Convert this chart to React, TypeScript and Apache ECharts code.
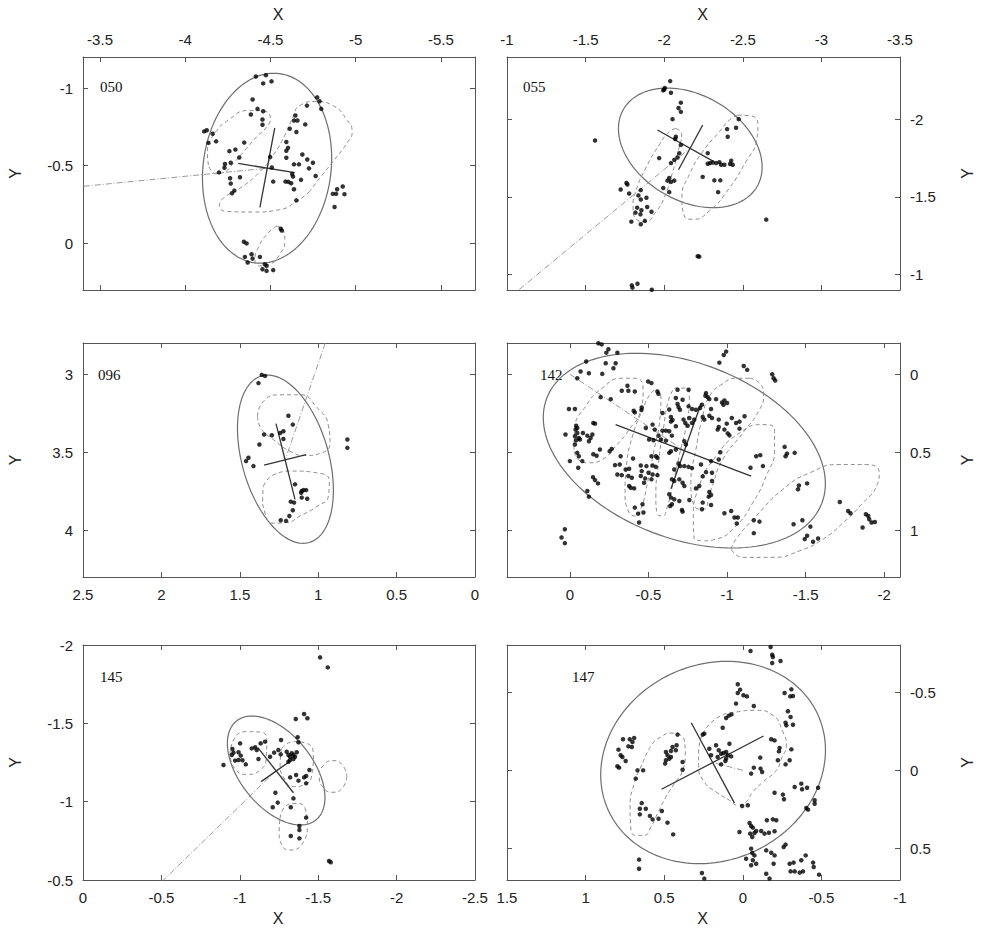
import React, { useEffect, useRef } from "react";
import * as echarts from "echarts";

// ---------------- DATA ----------------
const PTS_050 = [[-4.414,-1.074],[-4.473,-1.083],[-4.457,-1.030],[-4.506,-1.043],[-4.395,-0.926],[-4.774,-0.940],[-4.788,-0.915],[-4.798,-0.866],[-4.714,-0.887],[-4.424,-0.866],[-4.457,-0.851],[-4.385,-0.830],[-4.453,-0.798],[-4.453,-0.764],[-4.646,-0.823],[-4.638,-0.791],[-4.658,-0.791],[-4.613,-0.738],[-4.652,-0.717],[-4.704,-0.766],[-4.111,-0.721],[-4.126,-0.728],[-4.161,-0.706],[-4.136,-0.647],[-4.181,-0.657],[-4.346,-0.649],[-4.593,-0.653],[-4.603,-0.615],[-4.593,-0.596],[-4.259,-0.594],[-4.294,-0.604],[-4.317,-0.553],[-4.498,-0.557],[-4.593,-0.551],[-4.687,-0.572],[-4.716,-0.540],[-4.749,-0.519],[-4.233,-0.511],[-4.267,-0.519],[-4.638,-0.509],[-4.667,-0.509],[-4.726,-0.483],[-4.508,-0.489],[-4.230,-0.487],[-4.198,-0.457],[-4.627,-0.447],[-4.632,-0.430],[-4.263,-0.419],[-4.321,-0.426],[-4.765,-0.434],[-4.267,-0.385],[-4.516,-0.398],[-4.588,-0.398],[-4.605,-0.396],[-4.621,-0.387],[-4.679,-0.409],[-4.288,-0.340],[-4.274,-0.323],[-4.638,-0.349],[-4.652,-0.277],[-4.866,-0.319],[-4.885,-0.319],[-4.924,-0.366],[-4.934,-0.317],[-4.891,-0.349],[-4.876,-0.234],[-4.560,-0.094],[-4.566,-0.083],[-4.344,-0.011],[-4.360,0.0],[-4.389,0.070],[-4.438,0.087],[-4.350,0.087],[-4.395,0.098],[-4.366,0.123],[-4.467,0.134],[-4.477,0.145],[-4.453,0.166],[-4.477,0.177],[-4.516,0.172]];
const PTS_055 = [[-2.038,-2.245],[-2.004,-2.200],[-2.000,-2.191],[-1.994,-2.185],[-2.043,-2.170],[-2.106,-2.106],[-2.091,-2.072],[-2.106,-2.047],[-2.053,-2.000],[-2.400,-1.936],[-2.404,-1.887],[-2.457,-1.945],[-2.474,-2.000],[-1.560,-1.862],[-2.074,-1.887],[-2.070,-1.872],[-2.106,-1.834],[-2.096,-1.781],[-1.968,-1.749],[-2.043,-1.717],[-2.064,-1.738],[-2.085,-1.753],[-2.032,-1.621],[-2.021,-1.604],[-2.043,-1.596],[-2.064,-1.604],[-1.994,-1.557],[-2.032,-1.530],[-2.277,-1.781],[-2.277,-1.713],[-2.291,-1.717],[-2.309,-1.721],[-2.330,-1.717],[-2.351,-1.723],[-2.362,-1.706],[-2.383,-1.706],[-2.419,-1.711],[-2.426,-1.732],[-2.436,-1.706],[-2.245,-1.628],[-2.319,-1.606],[-2.357,-1.606],[-2.343,-1.530],[-1.760,-1.589],[-1.766,-1.579],[-1.723,-1.547],[-1.777,-1.521],[-1.851,-1.543],[-1.836,-1.509],[-1.851,-1.483],[-1.887,-1.494],[-1.828,-1.430],[-1.892,-1.434],[-1.855,-1.413],[-1.817,-1.398],[-1.849,-1.387],[-1.919,-1.404],[-1.791,-1.340],[-1.851,-1.323],[-1.877,-1.345],[-2.649,-1.353],[-2.213,-1.117],[-2.223,-1.115],[-1.794,-0.930],[-1.798,-0.915],[-1.830,-0.940],[-1.921,-0.902]];
const PTS_096 = [[1.360,3.004],[1.339,3.011],[1.381,3.057],[1.190,3.266],[1.162,3.323],[1.222,3.366],[1.243,3.377],[1.222,3.415],[1.345,3.387],[1.296,3.391],[1.375,3.451],[0.814,3.419],[0.814,3.472],[1.445,3.536],[1.460,3.557],[1.413,3.589],[1.148,3.706],[1.105,3.749],[1.094,3.743],[1.077,3.743],[1.109,3.760],[1.105,3.791],[1.070,3.798],[1.175,3.817],[1.154,3.823],[1.162,3.872],[1.184,3.909],[1.239,3.936],[1.205,3.940]];
const PTS_142 = [[-0.181,-0.198],[-0.202,-0.191],[-0.245,-0.160],[-0.232,-0.138],[-0.302,-0.138],[-0.104,-0.081],[-0.228,-0.070],[-0.291,-0.070],[-0.277,-0.038],[-0.068,-0.017],[-0.121,-0.006],[-0.206,-0.002],[-0.047,0.026],
[-0.994,-0.145],[-0.979,-0.123],[-0.951,-0.074],[-1.106,-0.053],[-1.128,-0.028],[-1.287,0.0],[-1.296,0.026],[-1.306,0.040],
[-0.498,0.047],[-0.519,0.057],[-0.330,0.106],[-0.366,0.074],[-0.372,0.106],[-0.413,0.111],[-0.196,0.147],[-0.260,0.160],[0.006,0.223],[-0.032,0.223],[-0.457,0.213],[-0.455,0.230],[-0.406,0.234],[-0.413,0.245],[-0.557,0.111],[-0.563,0.126],[0.028,0.387],[-0.040,0.330],[-0.047,0.345],[-0.036,0.355],[-0.047,0.377],[-0.032,0.398],[-0.057,0.409],[-0.040,0.423],[-0.064,0.419],[-0.032,0.451],[-0.083,0.377],[-0.111,0.394],[-0.132,0.409],[-0.143,0.387],[-0.121,0.430],[-0.149,0.313],[-0.160,0.317],[-0.047,0.504],[-0.057,0.526],[-0.079,0.557],[-0.053,0.600],[0.0,0.557],[-0.149,0.513],[-0.170,0.523],[-0.191,0.483],[-0.147,0.660],[-0.160,0.679],[-0.179,0.700],[-0.111,0.749],[-0.121,0.785],[-0.253,0.494],[-0.266,0.479],[-0.323,0.526],[-0.287,0.583],[-0.317,0.579],[-0.302,0.643],[-0.330,0.647],[-0.355,0.611],[-0.377,0.606],[-0.372,0.653],[-0.394,0.664],[-0.377,0.717],[-0.387,0.728],[-0.409,0.732],[-0.413,0.855],[-0.434,0.894],[-0.440,0.951],[-0.468,0.887],[-0.462,0.834],[-0.402,0.540],[-0.451,0.585],[-0.457,0.621],[-0.451,0.653],[-0.483,0.345],[-0.526,0.323],[-0.540,0.355],[-0.504,0.419],[-0.532,0.423],[-0.519,0.526],[-0.547,0.526],[-0.557,0.536],[-0.487,0.589],[-0.526,0.585],[-0.547,0.594],[-0.500,0.632],[-0.526,0.643],[-0.557,0.647],[-0.479,0.668],[-0.519,0.674],[-0.472,0.696],
[-0.589,0.249],[-0.632,0.226],[-0.643,0.274],[-0.653,0.294],[-0.685,0.191],[-0.691,0.211],[-0.755,0.100],[-0.674,0.153],[-0.717,0.164],[-0.685,0.100],[-0.700,0.228],[-0.755,0.206],[-0.777,0.223],[-0.802,0.228],[-0.828,0.217],[-0.589,0.362],[-0.611,0.362],[-0.632,0.366],[-0.564,0.394],[-0.579,0.419],[-0.611,0.426],[-0.643,0.304],[-0.674,0.334],[-0.649,0.394],[-0.723,0.291],[-0.734,0.313],[-0.749,0.330],[-0.760,0.281],[-0.777,0.313],[-0.791,0.291],[-0.728,0.430],[-0.738,0.451],[-0.674,0.483],[-0.643,0.494],[-0.632,0.504],[-0.691,0.572],[-0.702,0.589],[-0.728,0.589],[-0.755,0.594],[-0.777,0.602],[-0.664,0.611],[-0.649,0.674],[-0.664,0.685],[-0.696,0.674],[-0.717,0.696],[-0.728,0.717],[-0.632,0.770],[-0.643,0.791],[-0.664,0.802],[-0.696,0.813],[-0.649,0.834],[-0.638,0.845],[-0.713,0.870],[-0.717,0.881],[-0.760,0.806],
[-0.845,0.274],[-0.855,0.291],[-0.840,0.196],[-0.862,0.138],[-0.877,0.147],[-0.887,0.160],[-0.866,0.121],[-0.930,0.160],[-0.968,0.181],[-0.983,0.168],[-0.977,0.196],[-1.000,0.185],[-0.898,0.223],[-0.887,0.266],[-0.904,0.281],[-0.947,0.291],[-0.947,0.338],[-0.940,0.355],[-0.983,0.355],[-0.998,0.317],[-1.004,0.379],[-1.030,0.281],[-1.057,0.313],[-1.079,0.304],[-1.111,0.270],[-1.079,0.349],[-1.015,0.392],[-0.957,0.500],[-0.947,0.547],[-0.898,0.557],[-0.904,0.632],[-0.904,0.685],[-0.834,0.579],[-0.866,0.628],[-0.845,0.655],[-0.823,0.717],[-0.802,0.732],[-0.887,0.755],[-0.898,0.774],[-0.883,0.785],[-0.845,0.823],[-0.898,0.838],[-0.840,0.866],[-0.983,0.891],[-1.026,0.877],[-1.047,0.919],[-1.068,0.919],[-1.062,0.957],[-1.149,0.600],[-1.185,0.526],[-1.211,0.519],[-1.228,0.589],[-1.170,0.936],[-1.206,0.945],[-1.170,1.019],
[-1.366,0.466],[-1.372,0.526],[-1.381,0.509],[-1.430,0.504],[-1.457,0.713],[-1.451,0.738],[-1.509,0.700],[-1.423,0.962],[-1.479,0.936],[-1.530,0.977],[-1.509,1.036],[-1.494,1.057],[-1.547,1.074],[-1.579,1.053],[-1.717,0.819],[-1.770,0.877],[-1.785,0.891],[-1.862,0.983],[-1.883,0.898],[-1.898,0.909],[-1.919,0.951],[-1.940,0.947],[-1.904,0.930],
[0.032,0.994],[0.053,1.047],[0.032,1.083]];
const PTS_145 = [[-1.512,-1.921],[-1.561,-1.857],[-1.410,-1.560],[-1.431,-1.532],[-1.357,-1.528],[-1.369,-1.411],[-1.374,-1.379],[-0.896,-1.234],[-0.953,-1.336],[-0.960,-1.313],[-0.949,-1.298],[-0.970,-1.262],[-0.992,-1.266],[-1.002,-1.372],[-0.992,-1.315],[-1.006,-1.294],[-1.017,-1.264],[-1.038,-1.238],[-1.076,-1.340],[-1.098,-1.347],[-1.108,-1.330],[-1.119,-1.272],[-1.133,-1.372],[-1.161,-1.383],[-1.193,-1.287],[-1.219,-1.313],[-1.246,-1.330],[-1.263,-1.394],[-1.261,-1.302],[-1.299,-1.319],[-1.310,-1.298],[-1.321,-1.287],[-1.331,-1.309],[-1.342,-1.298],[-1.352,-1.287],[-1.363,-1.315],[-1.342,-1.272],[-1.310,-1.255],[-1.321,-1.266],[-1.444,-1.202],[-1.410,-1.155],[-1.423,-1.164],[-1.359,-1.170],[-1.374,-1.134],[-1.321,-1.155],[-1.423,-1.117],[-1.227,-1.057],[-1.242,-0.994],[-1.210,-0.964],[-1.342,-1.021],[-1.325,-0.964],[-1.423,-0.898],[-1.380,-0.845],[-1.380,-0.819],[-1.380,-0.766],[-1.325,-0.781],[-1.569,-0.621],[-1.580,-0.613]];
const PTS_147 = [[-0.049,-0.762],[-0.177,-0.787],[-0.187,-0.738],[-0.191,-0.723],[-0.187,-0.685],[-0.240,-0.698],
[0.032,-0.549],[0.017,-0.515],[0.032,-0.494],[-0.004,-0.479],[-0.026,-0.472],[0.043,-0.426],[-0.070,-0.411],
[-0.266,-0.494],[-0.309,-0.517],[-0.319,-0.474],[-0.302,-0.472],[-0.287,-0.377],[-0.304,-0.340],[-0.319,-0.291],[-0.272,-0.304],[-0.277,-0.287],
[0.106,-0.334],[0.089,-0.349],[0.072,-0.357],[0.128,-0.272],[0.245,-0.234],[0.255,-0.228],
[0.170,-0.160],[0.213,-0.138],[0.085,-0.170],[0.153,-0.128],[0.138,-0.106],[0.123,-0.111],[0.106,-0.117],[0.096,-0.096],[0.074,-0.089],[0.160,-0.085],[0.106,-0.074],[0.111,-0.060],[0.138,-0.038],[0.202,-0.096],
[-0.111,-0.081],[-0.070,-0.017],[-0.053,0.021],[-0.113,-0.011],[-0.123,0.011],
[-0.181,-0.198],[-0.202,-0.191],[-0.234,-0.143],[-0.230,-0.121],[-0.223,-0.064],[-0.309,-0.134],[-0.298,-0.064],[-0.272,-0.038],
[0.762,-0.198],[0.719,-0.198],[0.691,-0.206],[0.702,-0.181],[0.728,-0.153],[0.706,-0.149],[0.791,-0.132],[0.777,-0.096],[0.766,-0.085],[0.745,-0.060],[0.798,-0.026],[0.787,-0.017],
[0.670,0.0],[0.634,0.0],[0.681,0.053],
[0.415,-0.228],[0.489,-0.117],[0.457,-0.123],[0.426,-0.128],[0.447,-0.149],[0.421,-0.160],[0.479,-0.096],[0.468,-0.074],[0.489,-0.064],[0.457,-0.085],[0.494,-0.043],[0.383,-0.053],[0.383,-0.004],
[0.643,0.209],[0.655,0.245],[0.617,0.245],[0.655,0.281],[0.591,0.291],[0.574,0.313],[0.536,0.309],[0.515,0.260],[0.479,0.334],[0.443,0.409],
[0.660,0.570],[0.660,0.628],[0.260,0.655],[0.245,0.691],
[0.004,0.228],[-0.032,0.223],[0.021,0.394],[-0.043,0.336],[-0.053,0.355],[-0.064,0.366],[-0.047,0.404],[-0.060,0.426],[-0.074,0.400],[-0.085,0.387],[-0.117,0.387],[-0.138,0.404],[-0.153,0.319],[-0.166,0.398],
[-0.053,0.500],[-0.060,0.528],[-0.021,0.564],[-0.064,0.574],[-0.053,0.606],
[-0.191,0.313],[-0.213,0.319],[-0.202,0.389],[-0.260,0.489],[-0.272,0.474],[-0.149,0.511],[-0.181,0.526],[-0.202,0.543],[-0.196,0.596],[-0.074,0.543],[-0.085,0.596],[-0.149,0.660],[-0.170,0.691],
[-0.298,0.596],[-0.323,0.589],[-0.304,0.645],[-0.330,0.645],[-0.362,0.653],[-0.383,0.645],[-0.372,0.574],[-0.400,0.543],[-0.447,0.589],[-0.451,0.617],[-0.485,0.666],
[-0.202,0.143],[-0.255,0.155],[-0.262,0.185],[-0.330,0.106],[-0.372,0.085],[-0.377,0.121],[-0.409,0.111],[-0.479,0.111],[-0.404,0.240],[-0.415,0.251],[-0.457,0.191],[-0.457,0.213]];

// ellipse: [centerX, centerY, semiAxis1X, semiAxis1Y, semiAxis2X, semiAxis2Y]
const ELL_050 = [-4.48, -0.484, -0.073, -0.609, -0.372, 0.054];
const ELL_055 = [-2.166, -1.815, -0.423, 0.252, 0.173, 0.291];
const ELL_096 = [1.209, 3.545, -0.151, 0.534, 0.266, 0.075];
const ELL_142 = [-0.728, 0.49, -0.874, 0.339, 0.203, 0.524];
const ELL_145 = [-1.232, -1.199, -0.253, 0.316, 0.181, 0.145];
const ELL_147 = [0.189, -0.05, -0.664, -0.311, -0.265, 0.566];

const CROSS_050 = [[[-4.525,-0.743],[-4.438,-0.232]],[[-4.311,-0.515],[-4.642,-0.455]]];
const CROSS_055 = [[[-1.957,-1.930],[-2.313,-1.728]],[[-2.245,-1.962],[-2.091,-1.674]]];
const CROSS_096 = [[[1.269,3.317],[1.148,3.802]],[[1.345,3.583],[1.077,3.515]]];
const CROSS_142 = [[[-0.291,0.323],[-1.153,0.653]],[[-0.643,0.734],[-0.834,0.189]]];
const CROSS_145 = [[[-1.115,-1.345],[-1.342,-1.057]],[[-1.136,-1.128],[-1.316,-1.255]]];
const CROSS_147 = [[[0.517,0.121],[-0.132,-0.219]],[[0.328,-0.304],[0.053,0.209]]];

const ORIGIN = [0, 0];

const CONT_050 = [
  [[-4.136,-0.504],[-4.130,-0.589],[-4.165,-0.696],[-4.263,-0.802],[-4.370,-0.855],[-4.447,-0.855],[-4.500,-0.802],[-4.477,-0.749],[-4.418,-0.685],[-4.350,-0.600],[-4.282,-0.515],[-4.224,-0.457],[-4.180,-0.448]],
  [[-4.730,-0.334],[-4.652,-0.270],[-4.554,-0.217],[-4.399,-0.202],[-4.243,-0.206],[-4.200,-0.245],[-4.224,-0.291],[-4.321,-0.355],[-4.438,-0.462],[-4.516,-0.568],[-4.584,-0.696],[-4.632,-0.813],[-4.671,-0.887],[-4.768,-0.913],[-4.866,-0.887],[-4.944,-0.802],[-4.979,-0.717],[-4.953,-0.653],[-4.866,-0.526],[-4.788,-0.419]],
  [[-4.535,-0.111],[-4.578,-0.079],[-4.584,-0.015],[-4.554,0.070],[-4.496,0.134],[-4.438,0.145],[-4.409,0.102],[-4.428,0.028],[-4.477,-0.057]],
];
const CONT_055 = [
  [[-2.074,-1.940],[-2.111,-1.902],[-2.091,-1.802],[-2.049,-1.643],[-2.000,-1.494],[-1.947,-1.404],[-1.879,-1.340],[-1.823,-1.355],[-1.802,-1.440],[-1.823,-1.547],[-1.883,-1.685],[-1.968,-1.834],[-2.032,-1.919]],
  [[-2.468,-2.026],[-2.553,-2.021],[-2.596,-1.962],[-2.585,-1.855],[-2.521,-1.728],[-2.415,-1.557],[-2.287,-1.409],[-2.181,-1.355],[-2.128,-1.377],[-2.113,-1.494],[-2.160,-1.643],[-2.245,-1.791],[-2.351,-1.919],[-2.415,-1.994]],
];
const CONT_096 = [
  [[1.387,3.270],[1.349,3.174],[1.243,3.132],[1.116,3.132],[1.010,3.211],[0.935,3.330],[0.925,3.440],[0.978,3.504],[1.084,3.521],[1.179,3.494],[1.286,3.419],[1.366,3.345]],
  [[1.349,3.717],[1.281,3.643],[1.158,3.621],[1.010,3.632],[0.929,3.685],[0.935,3.781],[1.010,3.849],[1.116,3.909],[1.201,3.951],[1.286,3.955],[1.339,3.891],[1.354,3.791]],
];
const CONT_142 = [
  [[-0.026,0.483],[-0.032,0.345],[-0.100,0.206],[-0.206,0.089],[-0.334,0.026],[-0.419,0.026],[-0.466,0.100],[-0.451,0.228],[-0.377,0.355],[-0.291,0.462],[-0.206,0.547],[-0.121,0.568],[-0.053,0.547]],
  [[-0.547,0.100],[-0.579,0.143],[-0.572,0.291],[-0.536,0.483],[-0.494,0.696],[-0.451,0.866],[-0.419,0.909],[-0.372,0.877],[-0.351,0.760],[-0.360,0.589],[-0.398,0.398],[-0.462,0.228],[-0.515,0.121]],
  [[-0.664,0.089],[-0.738,0.089],[-0.760,0.143],[-0.743,0.313],[-0.700,0.504],[-0.657,0.696],[-0.621,0.845],[-0.589,0.909],[-0.557,0.898],[-0.547,0.781],[-0.564,0.568],[-0.594,0.355],[-0.628,0.164]],
  [[-1.143,0.026],[-1.206,0.057],[-1.232,0.132],[-1.206,0.228],[-1.100,0.377],[-0.972,0.547],[-0.898,0.738],[-0.845,0.866],[-0.791,0.845],[-0.770,0.694],[-0.802,0.481],[-0.845,0.268],[-0.887,0.142],[-0.972,0.061],[-1.057,0.026]],
  [[-0.791,1.057],[-0.785,0.930],[-0.823,0.717],[-0.930,0.526],[-1.079,0.377],[-1.228,0.323],[-1.302,0.355],[-1.302,0.483],[-1.249,0.653],[-1.164,0.823],[-1.057,0.972],[-0.930,1.057],[-0.845,1.068]],
  [[-1.026,1.121],[-1.057,1.057],[-1.185,0.909],[-1.355,0.738],[-1.526,0.632],[-1.717,0.579],[-1.887,0.579],[-1.968,0.632],[-1.951,0.717],[-1.866,0.823],[-1.740,0.951],[-1.611,1.057],[-1.462,1.132],[-1.291,1.174],[-1.100,1.174]],
];
const CONT_145 = [
  [[-0.938,-1.298],[-0.960,-1.394],[-1.045,-1.447],[-1.140,-1.443],[-1.172,-1.383],[-1.168,-1.277],[-1.130,-1.202],[-1.045,-1.174],[-0.970,-1.209]],
  [[-1.268,-1.340],[-1.342,-1.383],[-1.427,-1.372],[-1.469,-1.298],[-1.459,-1.170],[-1.406,-1.106],[-1.342,-1.096],[-1.289,-1.138],[-1.257,-1.245]],
  [[-1.682,-1.161],[-1.656,-1.089],[-1.594,-1.060],[-1.533,-1.089],[-1.507,-1.161],[-1.533,-1.232],[-1.594,-1.262],[-1.656,-1.232]],
  [[-1.257,-0.894],[-1.289,-0.968],[-1.352,-0.989],[-1.416,-0.957],[-1.431,-0.851],[-1.406,-0.745],[-1.321,-0.691],[-1.268,-0.723],[-1.251,-0.809]],
];
const CONT_147 = [
  [[0.415,-0.234],[0.372,-0.191],[0.366,-0.096],[0.383,0.0],[0.436,0.085],[0.489,0.170],[0.543,0.277],[0.585,0.362],[0.628,0.415],[0.681,0.415],[0.713,0.362],[0.717,0.234],[0.691,0.085],[0.649,-0.021],[0.574,-0.170],[0.521,-0.213],[0.457,-0.238]],
  [[0.255,-0.234],[0.170,-0.330],[0.043,-0.372],[-0.085,-0.383],[-0.191,-0.351],[-0.255,-0.245],[-0.277,-0.160],[-0.245,-0.074],[-0.213,0.0],[-0.128,0.074],[-0.064,0.138],[-0.021,0.202],[0.032,0.223],[0.085,0.191],[0.170,0.138],[0.245,0.074],[0.281,-0.032],[0.281,-0.117]],
];

const TICKS_050_X = [-5.5, -5, -4.5, -4, -3.5];
const TICKS_050_Y = [-1, -0.5, 0];
const TICKS_055_X = [-3.5, -3, -2.5, -2, -1.5, -1];
const TICKS_055_Y = [-2, -1.5, -1];
const TICKS_096_X = [0, 0.5, 1, 1.5, 2, 2.5];
const TICKS_096_Y = [3, 3.5, 4];
const TICKS_142_X = [-2, -1.5, -1, -0.5, 0];
const TICKS_142_Y = [0, 0.5, 1];
const TICKS_145_X = [-2.5, -2, -1.5, -1, -0.5, 0];
const TICKS_145_Y = [-2, -1.5, -1, -0.5];
const TICKS_147_X = [-1, -0.5, 0, 0.5, 1, 1.5];
const TICKS_147_Y = [-0.5, 0, 0.5];

// ---------------- LAYOUT ----------------
const PANELS = [
  { label: "050", pts: PTS_050, ell: ELL_050, cross: CROSS_050, cont: CONT_050, xt: TICKS_050_X, yt: TICKS_050_Y,
    grid: { left: 83, top: 57, width: 392, height: 233 }, xr: [-5.7, -3.4], yr: [-1.2, 0.3], xPos: "top", yPos: "left", lab: [100, 87], xTitle: true },
  { label: "055", pts: PTS_055, ell: ELL_055, cross: CROSS_055, cont: CONT_055, xt: TICKS_055_X, yt: TICKS_055_Y,
    grid: { left: 507, top: 57, width: 393, height: 233 }, xr: [-3.5, -1], yr: [-2.4, -0.9], xPos: "top", yPos: "right", lab: [523, 87], xTitle: true },
  { label: "096", pts: PTS_096, ell: ELL_096, cross: CROSS_096, cont: CONT_096, xt: TICKS_096_X, yt: TICKS_096_Y,
    grid: { left: 83, top: 343, width: 392, height: 234 }, xr: [0, 2.5], yr: [2.8, 4.3], xPos: "bottom", yPos: "left", lab: [98, 375], xTitle: false },
  { label: "142", pts: PTS_142, ell: ELL_142, cross: CROSS_142, cont: CONT_142, xt: TICKS_142_X, yt: TICKS_142_Y,
    grid: { left: 507, top: 343, width: 393, height: 234 }, xr: [-2.1, 0.4], yr: [-0.2, 1.3], xPos: "bottom", yPos: "right", lab: [540, 375], xTitle: false },
  { label: "145", pts: PTS_145, ell: ELL_145, cross: CROSS_145, cont: CONT_145, xt: TICKS_145_X, yt: TICKS_145_Y,
    grid: { left: 83, top: 645, width: 392, height: 235 }, xr: [-2.5, 0], yr: [-2, -0.5], xPos: "bottom", yPos: "left", lab: [100, 677], xTitle: true },
  { label: "147", pts: PTS_147, ell: ELL_147, cross: CROSS_147, cont: CONT_147, xt: TICKS_147_X, yt: TICKS_147_Y,
    grid: { left: 507, top: 645, width: 393, height: 235 }, xr: [-1, 1.5], yr: [-0.8, 0.7], xPos: "bottom", yPos: "right", lab: [572, 677], xTitle: true },
];

const AXIS_COLOR = "#555";
const SANS = "'Liberation Sans', Arial, sans-serif";
const SERIF = "'Liberation Serif', 'Times New Roman', serif";

function makeAxis(gridIndex: number, range: number[], ticks: number[], position: string, showLabel: boolean) {
  return {
    type: "value",
    gridIndex,
    min: range[0],
    max: range[1],
    inverse: true,
    position,
    axisLine: { show: true, onZero: false, lineStyle: { color: AXIS_COLOR, width: 1 } },
    axisTick: { show: true, inside: true, length: 5, customValues: ticks, lineStyle: { color: AXIS_COLOR, width: 1 } },
    axisLabel: {
      show: showLabel, customValues: ticks, color: "#222", fontSize: 15, fontFamily: SANS, margin: 10,
      formatter: (v: number) => String(v),
    },
    splitLine: { show: false },
    axisPointer: { show: false },
  };
}

function buildOption() {
  const grid: any[] = [];
  const xAxis: any[] = [];
  const yAxis: any[] = [];
  const series: any[] = [];
  const graphic: any[] = [];
  const opp: any = { top: "bottom", bottom: "top", left: "right", right: "left" };

  PANELS.forEach((p, i) => {
    grid.push({ ...p.grid, show: false });
    xAxis.push(makeAxis(i, p.xr, p.xt, p.xPos, true));
    xAxis.push(makeAxis(i, p.xr, p.xt, opp[p.xPos], false));
    yAxis.push(makeAxis(i, p.yr, p.yt, p.yPos, true));
    yAxis.push(makeAxis(i, p.yr, p.yt, opp[p.yPos], false));
    const ax = { xAxisIndex: 2 * i, yAxisIndex: 2 * i };
    const e = p.ell;

    // large fitted ellipse drawn through the axes' scales
    series.push({
      type: "custom", ...ax, silent: true, z: 2, clip: true,
      data: [[e[0], e[1]]],
      renderItem: (_params: any, api: any) => {
        const pts: number[][] = [];
        const N = 140;
        for (let k = 0; k <= N; k++) {
          const t = (k / N) * Math.PI * 2;
          const c = Math.cos(t), s = Math.sin(t);
          pts.push(api.coord([e[0] + e[2] * c + e[4] * s, e[1] + e[3] * c + e[5] * s]));
        }
        return { type: "polyline", shape: { points: pts }, style: { stroke: "#6e6e6e", lineWidth: 1.2, fill: "none" } };
      },
    });

    p.cont.forEach((c) => {
      series.push({
        type: "line", ...ax, data: [...c, c[0]], smooth: 0.55, symbol: "none", silent: true, z: 2,
        lineStyle: { color: "#8c8c8c", width: 1, type: [4, 3] },
      });
    });

    series.push({
      type: "line", ...ax, data: [ORIGIN, [e[0], e[1]]], symbol: "none", silent: true, z: 1,
      lineStyle: { color: "#9a9a9a", width: 1, type: [6, 2, 1, 2] },
    });

    p.cross.forEach((seg) => {
      series.push({
        type: "line", ...ax, data: seg, symbol: "none", silent: true, z: 3,
        lineStyle: { color: "#333", width: 1.3 },
      });
    });

    series.push({
      type: "scatter", ...ax, data: p.pts, symbolSize: 4.5, silent: true, z: 5,
      itemStyle: { color: "#000" },
    });

    // panel label
    graphic.push({
      type: "text", x: p.lab[0], y: p.lab[1], silent: true,
      style: { text: p.label, fontSize: 15, fontFamily: SERIF, fill: "#111", textAlign: "left", textVerticalAlign: "middle", align: "left", verticalAlign: "middle" },
    });

    const g = p.grid;
    const yx = p.yPos === "left" ? 15 : 967;
    graphic.push({
      type: "text", x: yx, y: g.top + g.height / 2, rotation: Math.PI / 2, silent: true,
      style: { text: "Y", fontSize: 16, fontFamily: SANS, fill: "#222", textAlign: "center", textVerticalAlign: "middle", align: "center", verticalAlign: "middle" },
    });
    if (p.xTitle) {
      const ty = p.xPos === "top" ? 14 : 918;
      graphic.push({
        type: "text", x: g.left + g.width / 2 - 1, y: ty, silent: true,
        style: { text: "X", fontSize: 16, fontFamily: SANS, fill: "#222", textAlign: "center", textVerticalAlign: "middle", align: "center", verticalAlign: "middle" },
      });
    }
  });

  return { animation: false, backgroundColor: "#fff", grid, xAxis, yAxis, series, graphic };
}

export default function App() {
  const ref = useRef<HTMLDivElement>(null);
  useEffect(() => {
    document.body.style.margin = "0";
    if (!ref.current) return;
    const chart = echarts.init(ref.current, undefined, { renderer: "svg" });
    chart.setOption(buildOption() as any);
    return () => chart.dispose();
  }, []);
  return <div ref={ref} style={{ width: 981, height: 933 }} />;
}
